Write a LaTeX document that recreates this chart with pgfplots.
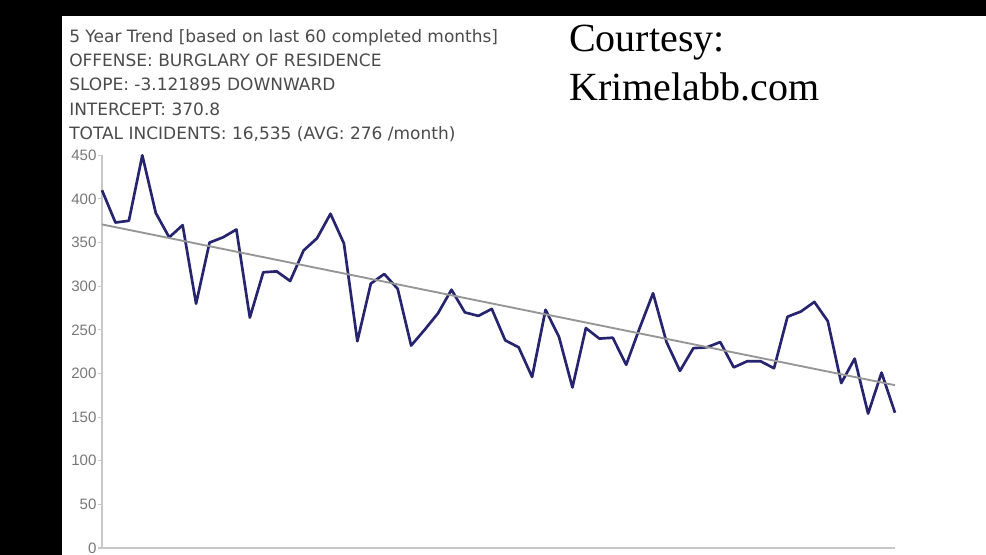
\documentclass[border=0pt]{standalone}
\usepackage{fontspec}
\setmainfont{DejaVu Sans}
\newfontfamily\tickfont{Liberation Sans}
\newfontfamily\seriffont{Liberation Serif}
\usepackage{pgfplots}
\pgfplotsset{compat=1.18}
\definecolor{navyline}{RGB}{38,36,110}
\definecolor{trendgray}{RGB}{150,150,150}
\definecolor{axisgray}{RGB}{200,200,200}
\definecolor{labelgray}{RGB}{120,120,120}
\definecolor{titlegray}{RGB}{75,75,75}
\begin{document}
\begin{tikzpicture}
\useasboundingbox (0,0) rectangle (739.5pt,-416.25pt);
\fill[black] (0,0) rectangle (739.5pt,-416.25pt);
\fill[white] (46.5pt,-12pt) rectangle (739.5pt,-416.25pt);
\begin{scope}[every node/.style={anchor=base west, text=titlegray, inner sep=0pt, font=\fontsize{12.75}{14}\selectfont}]
\node at (51.75pt,-32.25pt) {5 Year Trend [based on last 60 completed months]};
\node at (51.75pt,-50.25pt) {OFFENSE: BURGLARY OF RESIDENCE};
\node at (51.75pt,-68.25pt) {SLOPE: -3.121895 DOWNWARD};
\node at (51.75pt,-86.75pt) {INTERCEPT: 370.8};
\node at (51.75pt,-105pt) {TOTAL INCIDENTS: 16,535 (AVG: 276 /month)};
\end{scope}
\node[anchor=base west, inner sep=0pt, text=black, font=\seriffont\fontsize{30}{36}\selectfont] at (426.75pt,-39pt) {Courtesy:};
\node[anchor=base west, inner sep=0pt, text=black, font=\seriffont\fontsize{30}{36}\selectfont] at (426.75pt,-75.75pt) {Krimelabb.com};
\begin{axis}[
  at={(76.5pt,-411pt)}, anchor=south west,
  scale only axis, width=594.75pt, height=294.5pt,
  xmin=0, xmax=59, ymin=0, ymax=450,
  axis x line=bottom, axis y line=left,
  axis line style={-},
  x axis line style={axisgray, line width=1.8pt},
  y axis line style={axisgray, line width=1pt},
  xtick=\empty,
  ytick={0,50,...,450},
  tick align=outside,
  major tick length=3pt,
  ytick style={axisgray, line width=0.8pt},
  yticklabel style={font=\tickfont\fontsize{11.3}{12}\selectfont, text=labelgray, inner sep=1pt},
  /pgf/number format/assume math mode=true,
  clip=false,
]
\addplot[navyline, line width=2pt, line join=round, mark=none] coordinates {
(0,410) (1,373) (2,375) (3,450) (4,384) (5,356) (6,370) (7,280) (8,350) (9,356)
(10,365) (11,264) (12,316) (13,317) (14,306) (15,341) (16,355) (17,383) (18,349) (19,237)
(20,303) (21,314) (22,297) (23,232) (24,250) (25,269) (26,296) (27,270) (28,266) (29,274)
(30,238) (31,230) (32,196) (33,273) (34,242) (35,184) (36,252) (37,240) (38,241) (39,210)
(40,252) (41,292) (42,236) (43,203) (44,229) (45,230) (46,236) (47,207) (48,214) (49,214)
(50,206) (51,265) (52,271) (53,282) (54,260) (55,189) (56,217) (57,154) (58,201) (59,155)
};
\addplot[trendgray, line width=1.4pt, mark=none] coordinates {(0,370.8) (59,186.6)};
\end{axis}
\end{tikzpicture}
\end{document}
